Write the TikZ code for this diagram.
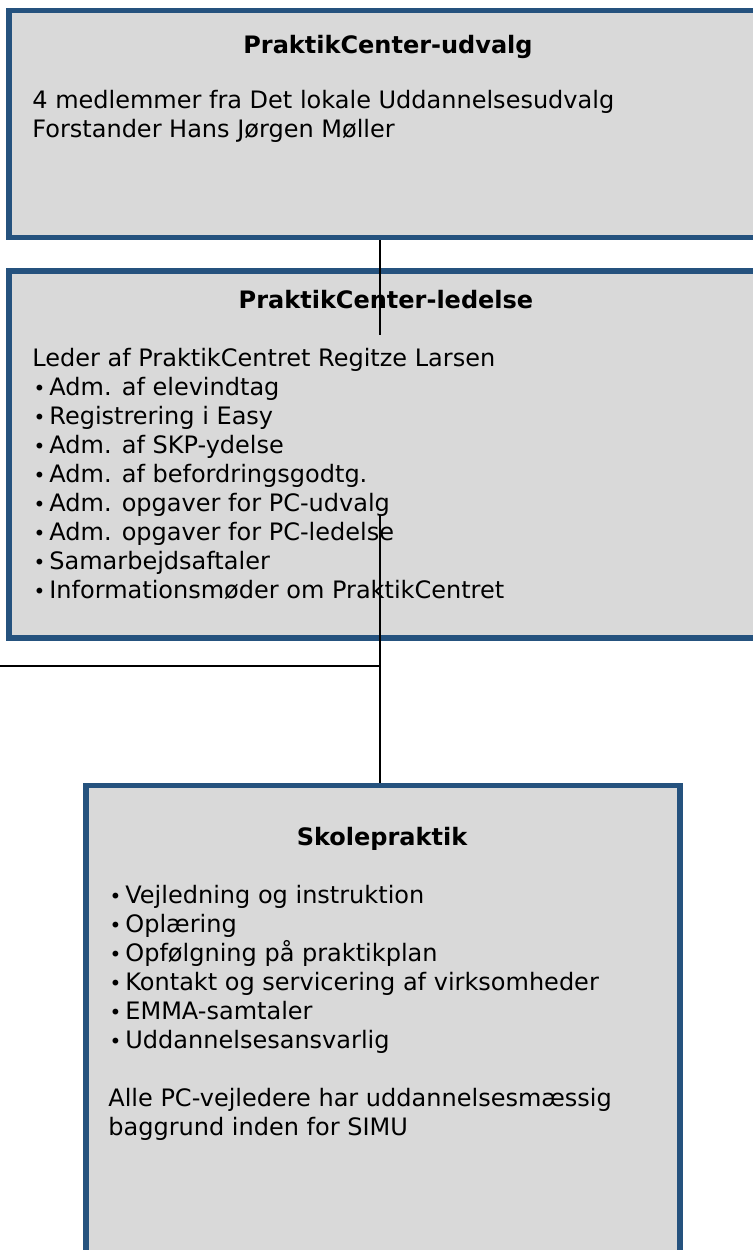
\documentclass[tikz,border=0pt]{standalone}
\usepackage{fontspec}
\setmainfont{DejaVu Sans}
\usepackage{xcolor}
\usepackage{tikz}
\usetikzlibrary{positioning,calc}

\definecolor{boxblue}{HTML}{25527E}
\definecolor{boxgray}{HTML}{D9D9D9}
\newcommand{\bitem}{\makebox[8.5pt][l]{\hspace{0.6pt}{\fontsize{10}{10}\selectfont •}}}

\begin{document}
\begin{tikzpicture}[x=0.5pt, y=-0.5pt,
  orgbox/.style={rectangle, draw=boxblue, fill=boxgray, line width=2.7pt, inner sep=0pt},
  boxtitle/.style={font=\fontsize{12}{14.5}\selectfont\bfseries, anchor=base, inner sep=0pt},
  boxtext/.style={font=\fontsize{12}{14.5}\selectfont, align=left, anchor=base west, inner sep=0pt},
  link/.style={line width=1pt}]
  \useasboundingbox (0,0) rectangle (753,1250);

  % boxes
  \node[orgbox, minimum width=379.5pt, minimum height=113.5pt] (udvalg) at (388.5,124) {};
  \node[orgbox, minimum width=379.5pt, minimum height=183.5pt] (ledelse) at (388.5,454.5) {};
  \node[orgbox, minimum width=297pt, minimum height=242pt] (skole) at (383,1027.5) {};

  % connectors
  \coordinate (ledtop) at (380,335);
  \coordinate (ledmid) at (380,515);
  \coordinate (side) at (0,666);
  \draw[link] (udvalg.south -| ledtop) -- (ledtop);
  \draw[link] (ledmid) -- (ledmid |- skole.north);
  \draw[link] (side) -- (side -| ledmid);

  % (a) PraktikCenter-udvalg (base = last line)
  \node[boxtitle] (udvalgtitle) at (388,53) {PraktikCenter-udvalg};
  \node[boxtext] (udvalgtxt) at (32,137) {4 medlemmer fra Det lokale Uddannelsesudvalg\\
    Forstander Hans Jørgen Møller};

  % (b) PraktikCenter-ledelse
  \node[boxtitle] (ledelsetitle) at (386,308) {PraktikCenter-ledelse};
  \node[boxtext] (ledelsetxt) at (32,598) {Leder af PraktikCentret Regitze Larsen\\
    \bitem Adm. af elevindtag\\
    \bitem Registrering i Easy\\
    \bitem Adm. af SKP-ydelse\\
    \bitem Adm. af befordringsgodtg.\\
    \bitem Adm. opgaver for PC-udvalg\\
    \bitem Adm. opgaver for PC-ledelse\\
    \bitem Samarbejdsaftaler\\
    \bitem Informationsmøder om PraktikCentret};

  % (c) Skolepraktik
  \node[boxtitle] (skoletitle) at (382,845) {Skolepraktik};
  \node[boxtext] (skoletxt) at (108,1048) {\bitem Vejledning og instruktion\\
    \bitem Oplæring\\
    \bitem Opfølgning på praktikplan\\
    \bitem Kontakt og servicering af virksomheder\\
    \bitem EMMA-samtaler\\
    \bitem Uddannelsesansvarlig};
  \node[boxtext] (skolenote) at (108,1135) {Alle PC-vejledere har uddannelsesmæssig\\
    baggrund inden for SIMU};
\end{tikzpicture}
\end{document}
